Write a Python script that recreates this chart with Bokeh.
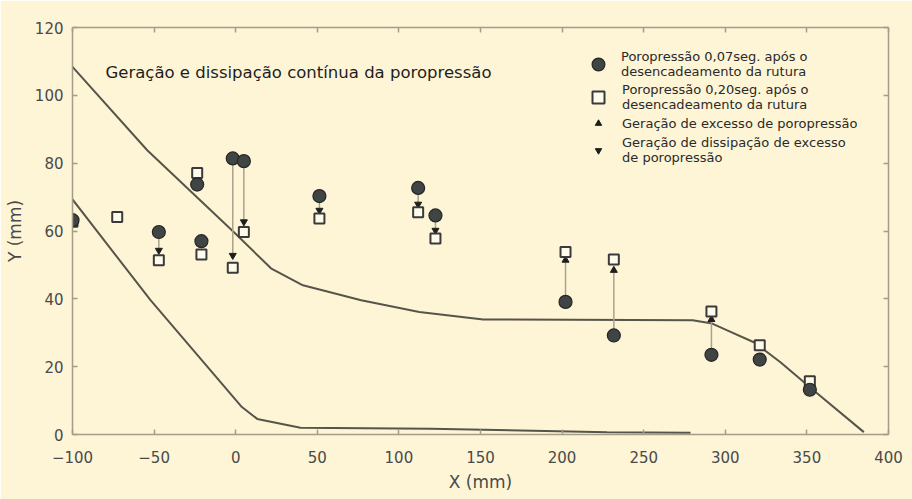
from bokeh.plotting import figure
from bokeh.models import LinearAxis, FixedTicker, Legend, LegendItem, Label
from bokeh.core.properties import value
from bokeh.embed import file_html
from bokeh.resources import INLINE

# ---------------- data ----------------
upper_x = [-100, -54.2, -1.2, 21.6, 41.2, 76.9, 112.5, 151.7, 280, 292, 301.2, 317.5, 333.8, 354.2, 384.9]
upper_y = [108.4, 83.8, 59.7, 49.0, 44.0, 39.6, 36.1, 33.9, 33.7, 32.7, 30.7, 27.2, 21.3, 13.0, 0.7]

lower_x = [-100, -52.2, 3.8, 13.2, 39.7, 119.4, 227.6, 278.7]
lower_y = [69.3, 39.6, 8.1, 4.6, 2.0, 1.7, 0.7, 0.5]

circle_x = [-100, -47.1, -23.6, -21.0, -1.8, 5.0, 51.3, 111.8, 122.4, 202.1, 231.7, 291.5, 321.1, 351.8]
circle_y = [63.2, 59.7, 73.7, 57.0, 81.4, 80.6, 70.3, 72.7, 64.6, 39.1, 29.2, 23.5, 22.1, 13.2]

square_x = [-100, -72.6, -47.1, -23.6, -21.0, -1.8, 5.0, 51.3, 111.8, 122.4, 202.1, 231.7, 291.5, 321.1, 351.8]
square_y = [62.7, 64.1, 51.4, 77.1, 53.1, 49.2, 59.7, 63.7, 65.5, 57.8, 53.8, 51.6, 36.3, 26.3, 15.7]

down_x = [-47.1, -1.8, 5.0, 51.3, 111.8, 122.4]
down_from = [59.7, 81.4, 80.6, 70.3, 72.7, 64.6]
down_to = [54.3, 52.8, 62.7, 66.1, 67.9, 60.2]

up_x = [202.1, 231.7, 291.5]
up_from = [39.1, 29.2, 23.5]
up_to = [51.4, 48.4, 33.9]

x_ticks = [-100, -50, 0, 50, 100, 150, 200, 250, 300, 350, 400]
y_ticks = [0, 20, 40, 60, 80, 100, 120]

title_text = "Geração e dissipação contínua da poropressão"
leg1 = "Poropressão 0,07seg. após o\ndesencadeamento da rutura"
leg2 = "Poropressão 0,20seg. após o\ndesencadeamento da rutura"
leg3 = "Geração de excesso de poropressão"
leg4 = "Geração de dissipação de excesso\nde poropressão"

# ---------------- styles ----------------
CREAM = "#fdf5d6"
AXIS_C = "#a39d8a"
TXT_C = "#4a4a4a"
CURVE_C = "#57544a"
FONT = "DejaVu Sans"

p = figure(width=912, height=499, x_range=(-100, 400), y_range=(0, 120),
           output_backend="svg", toolbar_location=None,
           min_border_left=72, min_border_right=24, min_border_top=27, min_border_bottom=65,
           background_fill_color=CREAM, border_fill_color=CREAM)
p.outline_line_color = None
p.grid.visible = False

# dark frame around the whole picture (an empty, padded text box)
try:
    frame_box = Label(x=4, y=6, x_units="canvas", y_units="canvas", text=" ",
                      text_font_size="1px", text_align="left", text_baseline="top",
                      padding=dict(left=0, right=906, top=0, bottom=489),
                      border_line_color="#2a2a2a", border_line_width=2,
                      background_fill_color=None, level="underlay")
    p.add_layout(frame_box)
except Exception:
    pass

def style_axis(ax, ticks, labels=True):
    ax.ticker = FixedTicker(ticks=ticks)
    ax.axis_line_color = AXIS_C
    ax.axis_line_width = 1.5
    ax.major_tick_line_color = AXIS_C
    ax.major_tick_line_width = 1.5
    ax.major_tick_in = 5
    ax.major_tick_out = 0
    ax.minor_tick_line_color = None
    ax.major_label_text_font = FONT
    ax.major_label_text_font_size = "15px" if labels else "0px"
    ax.major_label_text_color = TXT_C
    ax.axis_label_text_font = FONT
    ax.axis_label_text_font_size = "17px"
    ax.axis_label_text_font_style = "normal"
    ax.axis_label_text_color = TXT_C

xa = p.xaxis[0]
ya = p.yaxis[0]
style_axis(xa, x_ticks)
style_axis(ya, y_ticks)
xa.axis_label = "X (mm)"
ya.axis_label = "Y (mm)"
xa.major_label_standoff = 16
xa.axis_label_standoff = 6
ya.major_label_standoff = 9
ya.axis_label_standoff = 7

top_ax = LinearAxis()
right_ax = LinearAxis()
style_axis(top_ax, x_ticks, labels=False)
style_axis(right_ax, y_ticks, labels=False)
p.add_layout(top_ax, "above")
p.add_layout(right_ax, "right")

# curves
p.line(upper_x, upper_y, line_color=CURVE_C, line_width=2)
p.line(lower_x, lower_y, line_color=CURVE_C, line_width=2)

# arrows
p.segment(x0=down_x, y0=down_from, x1=down_x, y1=down_to, line_color="#aaa28c", line_width=1.5)
p.segment(x0=up_x, y0=up_from, x1=up_x, y1=up_to, line_color="#aaa28c", line_width=1.5)
r_dn = p.scatter(down_x, down_to, marker="inverted_triangle", size=7,
                 fill_color="#1e1e1e", line_color="#1e1e1e")
r_up = p.scatter(up_x, up_to, marker="triangle", size=7,
                 fill_color="#1e1e1e", line_color="#1e1e1e")

# points
r_sq = p.scatter(square_x, square_y, marker="square", size=10,
                 fill_color="#fffbea", line_color="#3a3a3a", line_width=2)
r_ci = p.scatter(circle_x, circle_y, marker="circle", size=13,
                 fill_color="#3f4444", line_color="#262626", line_width=1.2)

# title text
p.add_layout(Label(x=105, y=72, x_units="canvas", y_units="canvas", text=title_text,
                   text_font=FONT, text_font_size="16.5px", text_color="#1e1e1e",
                   text_baseline="alphabetic"))

def add_legend(label, rends, loc, gw, gh, standoff):
    lg = Legend(items=[LegendItem(label=value(label), renderers=rends)],
                location=loc, glyph_width=gw, glyph_height=gh, label_standoff=standoff,
                padding=0, margin=0, spacing=0, label_height=0, label_width=0,
                border_line_alpha=0, background_fill_alpha=0,
                label_text_font=FONT, label_text_font_size="13px",
                label_text_color="#2a2a2a", label_text_line_height=0.95)
    p.add_layout(lg)

add_legend(leg1, [r_ci], (510, 354), 32, 32, 7)
add_legend(leg2, [r_sq], (511, 322), 30, 30, 9)
add_legend(leg3, [r_up], (518, 303), 16, 16, 16)
add_legend(leg4, [r_dn], (518, 268), 16, 32, 16)

open("out.html", "w").write(file_html(p, INLINE))
